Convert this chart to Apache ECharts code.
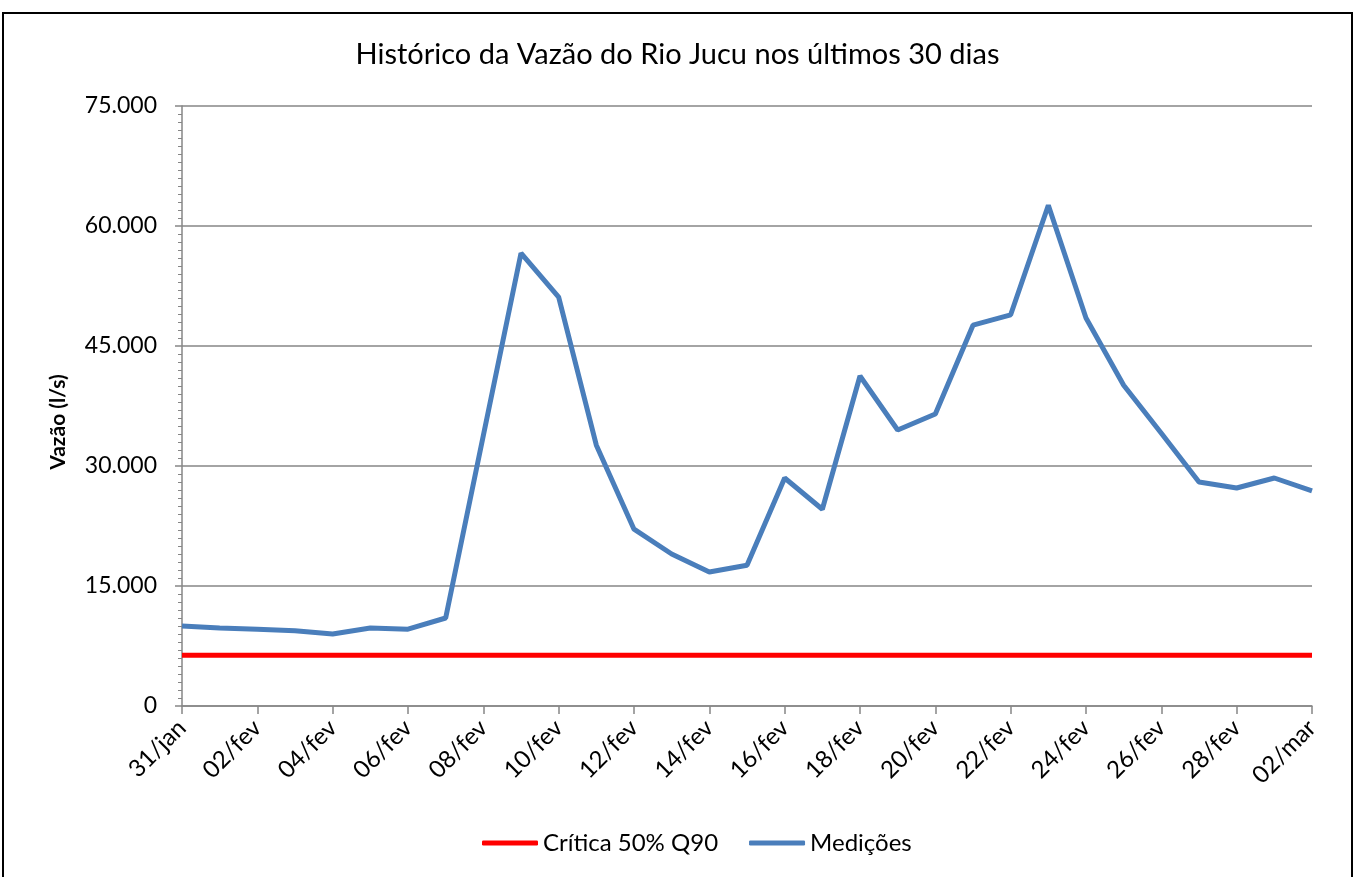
<!DOCTYPE html>
<html>
<head>
<meta charset="utf-8">
<script src="https://cdn.jsdelivr.net/npm/echarts@6/dist/echarts.min.js"></script>
<style>
  html, body { margin: 0; padding: 0; background: #fff; }
  #chart { width: 1355px; height: 877px; }
</style>
</head>
<body>
<div id="chart"></div>
<script>
var dias = ['31/jan', '01/fev', '02/fev', '03/fev', '04/fev', '05/fev', '06/fev', '07/fev', '08/fev', '09/fev',
  '10/fev', '11/fev', '12/fev', '13/fev', '14/fev', '15/fev', '16/fev', '17/fev', '18/fev', '19/fev',
  '20/fev', '21/fev', '22/fev', '23/fev', '24/fev', '25/fev', '26/fev', '27/fev', '28/fev', '01/mar', '02/mar'];

var medicoes = [10000, 9750, 9600, 9400, 9000, 9750, 9600, 11000, 33800, 56600,
  51100, 32600, 22100, 19000, 16750, 17600, 28500, 24600, 41250, 34500,
  36500, 47600, 48900, 62600, 48500, 40100, 34100, 28000, 27250, 28500, 26900];

var criticaValor = 6350;
var critica = dias.map(function () { return criticaValor; });

var fonte = 'Lato, "Open Sans", sans-serif';

function milhar(v) {
  return String(v).replace(/\B(?=(\d{3})+(?!\d))/g, '.');
}

var myChart = echarts.init(document.getElementById('chart'));
option = {
  animation: false,
  backgroundColor: '#fff',
  textStyle: { fontFamily: fonte },
  title: {
    text: 'Histórico da Vazão do Rio Jucu nos últimos 30 dias',
    left: 'center',
    top: 35,
    textStyle: { fontFamily: fonte, fontSize: 29, fontWeight: 'normal', color: '#000' }
  },
  graphic: [{
    type: 'rect',
    shape: { x: 3, y: 13, width: 1349, height: 880 },
    style: { fill: 'none', stroke: '#000', lineWidth: 2 },
    silent: true
  }],
  legend: {
    bottom: 17,
    left: 477,
    icon: 'roundRect',
    itemWidth: 56,
    itemHeight: 5,
    itemGap: 31,
    textStyle: { fontFamily: fonte, fontSize: 24, color: '#000' },
    data: ['Crítica 50% Q90', 'Medições']
  },
  grid: { left: 182, right: 43, top: 106, bottom: 171 },
  xAxis: {
    type: 'category',
    data: dias,
    boundaryGap: false,
    axisLine: { lineStyle: { color: '#868686', width: 1.5 } },
    axisTick: { interval: 1, length: 8, lineStyle: { color: '#868686', width: 1.5 } },
    axisLabel: { interval: 1, rotate: 45, fontSize: 24, color: '#000', margin: 18 }
  },
  yAxis: {
    type: 'value',
    min: 0,
    max: 75000,
    interval: 15000,
    name: 'Vazão (l/s)',
    nameLocation: 'middle',
    nameGap: 113,
    nameTextStyle: { fontFamily: fonte, fontSize: 21, fontWeight: 'bold', color: '#000', padding: [0, 32, 0, 0] },
    axisLine: { show: true, lineStyle: { color: '#868686', width: 1.5 } },
    axisTick: { show: true, length: 7, lineStyle: { color: '#868686', width: 1.5 } },
    minorTick: { show: true, splitNumber: 15, length: 4, lineStyle: { color: '#868686', width: 1 } },
    splitLine: { lineStyle: { color: '#868686', width: 1.5 } },
    axisLabel: { fontSize: 23, color: '#000', margin: 25, formatter: milhar }
  },
  series: [
    {
      name: 'Crítica 50% Q90',
      type: 'line',
      data: critica,
      symbol: 'none',
      color: '#ff0000',
      lineStyle: { color: '#ff0000', width: 5 }
    },
    {
      name: 'Medições',
      type: 'line',
      data: medicoes,
      symbol: 'none',
      color: '#4a7ebb',
      lineStyle: { color: '#4a7ebb', width: 5 }
    }
  ]
};
myChart.setOption(option);
</script>
</body>
</html>
